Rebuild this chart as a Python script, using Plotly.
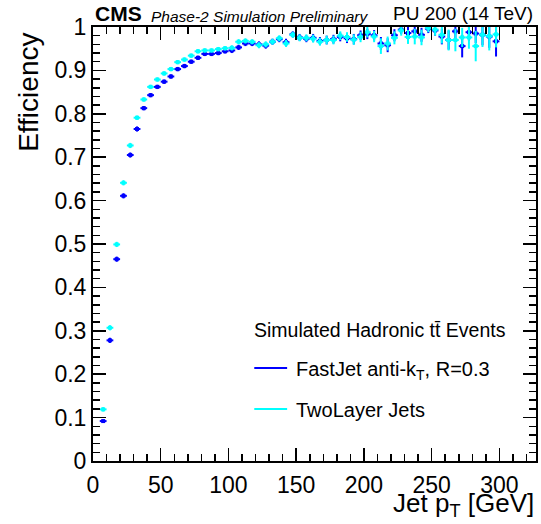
import plotly.graph_objects as go

# ---------------- data ----------------
pt_centers = [7.5, 12.5, 17.5, 22.5, 27.5, 32.5, 37.5, 42.5, 47.5, 52.5,
              57.5, 62.5, 67.5, 72.5, 77.5, 82.5, 87.5, 92.5, 97.5, 102.5,
              107.5, 112.5, 117.5, 122.5, 127.5, 132.5, 137.5, 142.5, 147.5, 152.5,
              157.5, 162.5, 167.5, 172.5, 177.5, 182.5, 187.5, 192.5, 197.5, 202.5,
              207.5, 212.5, 217.5, 222.5, 227.5, 232.5, 237.5, 242.5, 247.5, 252.5,
              257.5, 262.5, 267.5, 272.5, 277.5, 282.5, 287.5, 292.5, 297.5]
bin_half_width = 2.5

eff_fastjet = [0.092, 0.278, 0.465, 0.611, 0.705, 0.765, 0.813, 0.843, 0.862, 0.874,
               0.886, 0.903, 0.910, 0.920, 0.929, 0.938, 0.938, 0.940, 0.944, 0.946,
               0.953, 0.962, 0.962, 0.960, 0.957, 0.966, 0.972, 0.965, 0.983, 0.976,
               0.973, 0.975, 0.968, 0.970, 0.972, 0.977, 0.974, 0.972, 0.981, 0.984,
               0.981, 0.962, 0.958, 0.981, 0.994, 0.986, 0.990, 0.982, 0.996, 0.992,
               0.978, 0.970, 0.990, 0.956, 0.988, 0.985, 0.982, 0.978, 0.967]
err_fastjet = [0.004, 0.006, 0.006, 0.006, 0.006, 0.006, 0.005, 0.005, 0.005, 0.005,
               0.005, 0.005, 0.005, 0.005, 0.005, 0.005, 0.005, 0.005, 0.005, 0.006,
               0.006, 0.006, 0.006, 0.007, 0.007, 0.007, 0.007, 0.008, 0.007, 0.008,
               0.008, 0.009, 0.009, 0.010, 0.010, 0.010, 0.011, 0.012, 0.011, 0.012,
               0.012, 0.015, 0.016, 0.014, 0.010, 0.014, 0.014, 0.016, 0.010, 0.012,
               0.018, 0.022, 0.016, 0.026, 0.020, 0.022, 0.024, 0.026, 0.035]

eff_twolayer = [0.119, 0.307, 0.499, 0.641, 0.727, 0.791, 0.833, 0.862, 0.879, 0.893,
                0.903, 0.919, 0.925, 0.934, 0.944, 0.946, 0.946, 0.949, 0.951, 0.952,
                0.966, 0.968, 0.966, 0.958, 0.960, 0.966, 0.974, 0.962, 0.982, 0.975,
                0.975, 0.973, 0.966, 0.970, 0.970, 0.980, 0.977, 0.971, 0.977, 0.988,
                0.978, 0.956, 0.962, 0.975, 0.992, 0.977, 0.978, 0.976, 0.998, 0.994,
                0.982, 0.970, 0.970, 0.976, 0.976, 0.956, 0.982, 0.979, 0.983]
err_twolayer = [0.005, 0.006, 0.006, 0.006, 0.006, 0.005, 0.005, 0.005, 0.005, 0.005,
                0.005, 0.005, 0.005, 0.005, 0.005, 0.005, 0.005, 0.005, 0.005, 0.006,
                0.006, 0.006, 0.006, 0.007, 0.007, 0.007, 0.007, 0.008, 0.007, 0.008,
                0.008, 0.009, 0.009, 0.010, 0.010, 0.010, 0.011, 0.012, 0.012, 0.012,
                0.013, 0.018, 0.016, 0.015, 0.012, 0.016, 0.018, 0.018, 0.010, 0.014,
                0.020, 0.024, 0.026, 0.022, 0.026, 0.035, 0.028, 0.033, 0.030]

x_tick_vals = [0, 50, 100, 150, 200, 250, 300]
y_tick_vals = [0, 0.1, 0.2, 0.3, 0.4, 0.5, 0.6, 0.7, 0.8, 0.9, 1.0]
y_tick_text = ["0", "0.1", "0.2", "0.3", "0.4", "0.5", "0.6", "0.7", "0.8", "0.9", "1"]

BLUE = "#0000ff"
CYAN = "#00ffff"
FONT = "Liberation Sans, Arial, Helvetica, sans-serif"

fig = go.Figure()

for name, y, err, col in [("FastJet", eff_fastjet, err_fastjet, BLUE),
                          ("TwoLayer", eff_twolayer, err_twolayer, CYAN)]:
    fig.add_trace(go.Scatter(
        x=pt_centers, y=y, mode="markers", name=name, showlegend=False,
        marker=dict(symbol="square", size=4, color=col),
        error_x=dict(type="constant", value=bin_half_width, color=col, thickness=2, width=0),
        error_y=dict(type="data", array=err, color=col, thickness=2, width=0),
        cliponaxis=True,
    ))

axis_common = dict(
    showline=True, linecolor="black", linewidth=2, mirror="ticks",
    ticks="inside", ticklen=13, tickwidth=1.5, tickcolor="black",
    showgrid=False, zeroline=False,
    tickfont=dict(family=FONT, size=23, color="black"),
)

fig.update_xaxes(range=[0, 327], tickvals=x_tick_vals, ticklabelstandoff=2,
                 minor=dict(dtick=10, tick0=0, ticks="inside", ticklen=7, tickwidth=1.5,
                            tickcolor="black", showgrid=False),
                 **axis_common)
fig.update_yaxes(range=[0, 1.0], tickvals=y_tick_vals, ticktext=y_tick_text,
                 minor=dict(dtick=0.02, tick0=0, ticks="inside", ticklen=7, tickwidth=1.5,
                            tickcolor="black", showgrid=False),
                 **axis_common)

annotations = [
    dict(text="<b>CMS</b>", x=0.0, y=1.032, xref="paper", yref="paper",
         xanchor="left", yanchor="middle", showarrow=False,
         font=dict(family=FONT, size=21, color="black")),
    dict(text="<i>Phase-2 Simulation Preliminary</i>", x=0.126, y=1.024, xref="paper", yref="paper",
         xanchor="left", yanchor="middle", showarrow=False,
         font=dict(family=FONT, size=15.5, color="black")),
    dict(text="PU 200 (14 TeV)", x=0.998, y=1.031, xref="paper", yref="paper",
         xanchor="right", yanchor="middle", showarrow=False,
         font=dict(family=FONT, size=19, color="black")),
    dict(text="Efficiency", x=-0.146, y=0.849, xref="paper", yref="paper",
         xanchor="center", yanchor="middle", textangle=-90, showarrow=False,
         font=dict(family=FONT, size=28, color="black")),
    dict(text="Jet p<sub>T</sub> [GeV]", x=1.0, y=-0.101, xref="paper", yref="paper",
         xanchor="right", yanchor="middle", showarrow=False,
         font=dict(family=FONT, size=26, color="black")),
    dict(text="Simulated Hadronic t\u0074\u0304 Events", x=(253 - 93) / 445, y=(461 - 330) / 434,
         xref="paper", yref="paper", xanchor="left", yanchor="middle", showarrow=False,
         font=dict(family=FONT, size=19.5, color="black")),
    dict(text="FastJet anti-k<sub>T</sub>, R=0.3", x=(295 - 93) / 445, y=(461 - 370) / 434,
         xref="paper", yref="paper", xanchor="left", yanchor="middle", showarrow=False,
         font=dict(family=FONT, size=20, color="black")),
    dict(text="TwoLayer Jets", x=(295 - 93) / 445, y=(461 - 410) / 434,
         xref="paper", yref="paper", xanchor="left", yanchor="middle", showarrow=False,
         font=dict(family=FONT, size=20, color="black")),
]

shapes = [
    dict(type="line", xref="paper", yref="paper",
         x0=(255 - 93) / 445, x1=(288 - 93) / 445,
         y0=(461 - 368) / 434, y1=(461 - 368) / 434,
         line=dict(color=BLUE, width=2)),
    dict(type="line", xref="paper", yref="paper",
         x0=(255 - 93) / 445, x1=(288 - 93) / 445,
         y0=(461 - 409) / 434, y1=(461 - 409) / 434,
         line=dict(color=CYAN, width=2)),
]

fig.update_layout(
    width=541, height=524,
    margin=dict(l=93, r=3, t=27, b=63, pad=0),
    paper_bgcolor="white", plot_bgcolor="white",
    annotations=annotations, shapes=shapes,
    font=dict(family=FONT, color="black"),
    showlegend=False,
)

fig.write_html("out.html",
               config={"displayModeBar": False, "staticPlot": True},
               post_script=("document.documentElement.style.overflow='hidden';"
                            "document.body.style.margin='0px';"
                            "document.body.style.overflow='hidden';"))
